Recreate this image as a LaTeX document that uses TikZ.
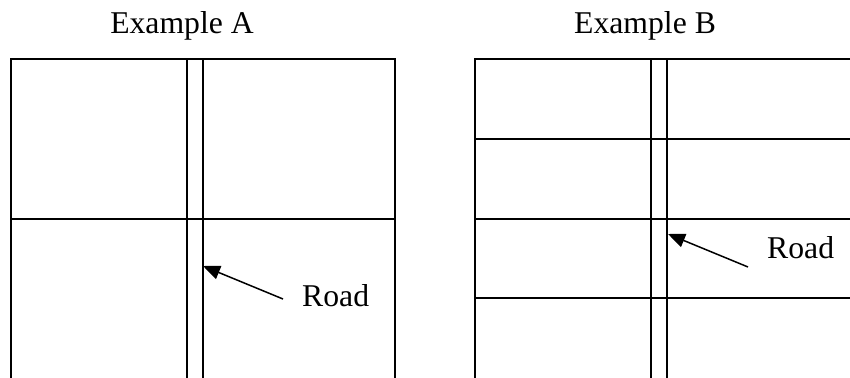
\documentclass[tikz,border=0pt]{standalone}
\usepackage{fontspec}
\setmainfont{Liberation Serif}
\usetikzlibrary{arrows.meta}
\begin{document}
\begin{tikzpicture}[x=1pt,y=-1pt,
  gridline/.style={line width=1.6pt, line cap=rect},
  pointer/.style={line width=1.5pt, -{Triangle[length=17pt,width=14pt]}},
  caption/.style={inner sep=0pt, anchor=base, font=\fontsize{31.7}{38}\selectfont},
  label/.style={inner sep=0pt, anchor=base west, font=\fontsize{31.7}{38}\selectfont}]
\useasboundingbox (0,0) rectangle (850,377);

% titles
\node[caption] (titleA) at (182,34) {Example A};
\node[caption] (titleB) at (645,34) {Example B};

% Example A: four blocks split by a road
\draw[gridline] (11,377) -- (11,59) -- (395,59) -- (395,377);
\draw[gridline] (11,219) -- (395,219);
\draw[gridline] (187,59) -- (187,377);
\draw[gridline] (203,59) -- (203,377);

% Example B: strips split by a road
\draw[gridline] (475,377) -- (475,59) -- (850,59);
\foreach \y in {139,219,298} \draw[gridline] (475,\y) -- (850,\y);
\draw[gridline] (651,59) -- (651,377);
\draw[gridline] (667,59) -- (667,377);

% labels and pointers
\node[label] (roadA) at (302,306) {Road};
\node[label] (roadB) at (767,258) {Road};
\coordinate (tailA) at (283,299);
\coordinate (tipA) at (203,266);
\coordinate (tailB) at (748,267);
\coordinate (tipB) at (668,234);
\draw[pointer] (tailA) -- (tipA);
\draw[pointer] (tailB) -- (tipB);
\end{tikzpicture}
\end{document}
